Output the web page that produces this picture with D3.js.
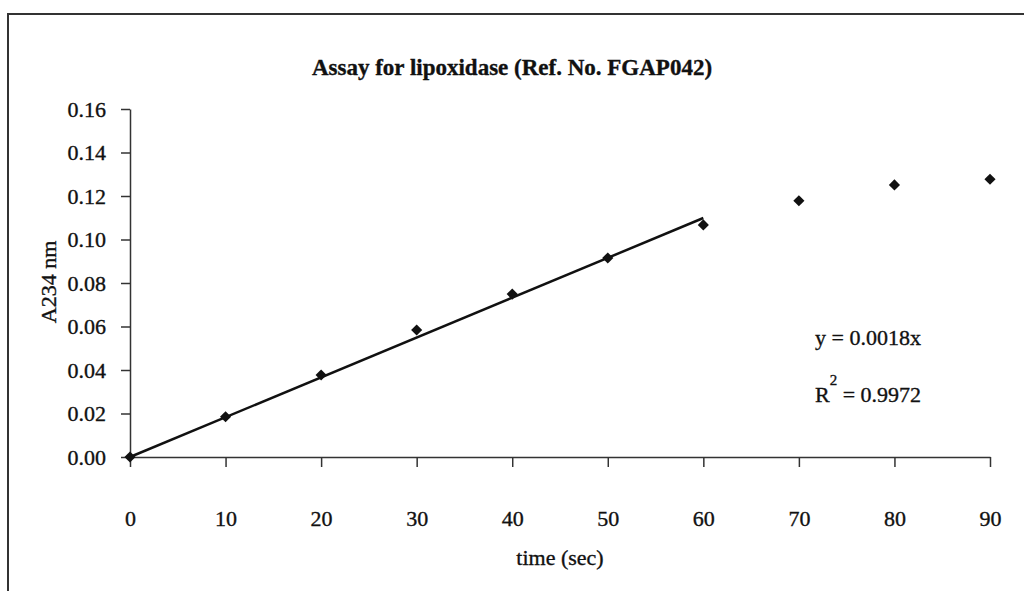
<!DOCTYPE html>
<html>
<head>
<meta charset="utf-8">
<script src="https://cdn.jsdelivr.net/npm/d3@7"></script>
<style>
  body { margin: 0; background: #fff; }
  svg { display: block; }
  text { font-family: "Liberation Serif", "Times New Roman", serif; fill: #111; stroke: #111; stroke-width: 0.35; }
  .axis path, .axis line { stroke: #333; stroke-width: 1.5; }
  .axis text { font-size: 22px; fill: #111; }
</style>
</head>
<body>
<div id="chart"></div>
<script>

// data
const times = [0, 10, 20, 30, 40, 50, 60, 70, 80, 90];
const absorbance = [0, 0.0185, 0.0377, 0.0584, 0.0749, 0.0915, 0.1067, 0.1178, 0.1251, 0.1277];
const yTicks = [0, 0.02, 0.04, 0.06, 0.08, 0.10, 0.12, 0.14, 0.16];
const xTicks = [0, 10, 20, 30, 40, 50, 60, 70, 80, 90];
const fitUpTo = 60;   // trendline uses points up to 60 s
const eqText = "y = 0.0018x";
const r2Value = "0.9972";

const width = 1024, height = 591;

const svg = d3.select("#chart").append("svg")
    .attr("width", width)
    .attr("height", height);

// outer frame (only top and left edges are in view)
svg.append("path")
    .attr("d", "M8,591 L8,14 L1024,14")
    .attr("fill", "none")
    .attr("stroke", "#333")
    .attr("stroke-width", 2);

// scales
const x = d3.scaleLinear().domain([0, 90]).range([130, 990]);
const y = d3.scaleLinear().domain([0, 0.16]).range([457, 109]);

// axes
const yAxis = d3.axisLeft(y)
    .tickValues(yTicks)
    .tickFormat(d3.format(".2f"))
    .tickSize(9)
    .tickSizeOuter(0)
    .tickPadding(15);

svg.append("g")
    .attr("class", "y-axis axis")
    .attr("transform", "translate(" + x(0) + ",0)")
    .call(yAxis);

const xAxis = d3.axisBottom(x)
    .tickValues(xTicks)
    .tickFormat(d3.format("d"))
    .tickSize(10)
    .tickSizeOuter(0);

svg.append("g")
    .attr("class", "x-axis axis")
    .attr("transform", "translate(0," + y(0) + ")")
    .call(xAxis)
    .selectAll("text")
    .attr("y", 69)
    .attr("dy", 0);

svg.selectAll(".axis .domain").attr("stroke", "#333");

// linear trendline through origin (least squares on first points)
const fitData = times.map((t, i) => ({ t: t, a: absorbance[i] })).filter(d => d.t <= fitUpTo);
const slope = d3.sum(fitData, d => d.t * d.a) / d3.sum(fitData, d => d.t * d.t);

svg.append("line")
    .attr("x1", x(0))
    .attr("y1", y(0))
    .attr("x2", x(fitUpTo))
    .attr("y2", y(slope * fitUpTo))
    .attr("stroke", "#111")
    .attr("stroke-width", 2.5);

// points (diamonds)
const diamond = d3.symbol().type(d3.symbolSquare).size(62);

svg.selectAll(".pt")
    .data(times)
    .enter()
    .append("path")
    .attr("class", "pt")
    .attr("d", diamond)
    .attr("transform", (d, i) => "translate(" + x(d) + "," + y(absorbance[i]) + ") rotate(45)")
    .attr("fill", "#111");

// title
svg.append("text")
    .attr("x", 512)
    .attr("y", 75)
    .attr("text-anchor", "middle")
    .style("font-size", "23px")
    .style("font-weight", "bold")
    .text("Assay for lipoxidase (Ref. No. FGAP042)");

// axis titles
svg.append("text")
    .attr("transform", "translate(56,282) rotate(-90)")
    .attr("text-anchor", "middle")
    .style("font-size", "22px")
    .text("A234 nm");

svg.append("text")
    .attr("x", 560)
    .attr("y", 565)
    .attr("text-anchor", "middle")
    .style("font-size", "22px")
    .text("time (sec)");

// equation and R²
svg.append("text")
    .attr("x", 815)
    .attr("y", 345)
    .style("font-size", "22px")
    .text(eqText);

const r2 = svg.append("text")
    .attr("x", 815)
    .attr("y", 402)
    .style("font-size", "22px");
r2.append("tspan").text("R");
r2.append("tspan").attr("dy", -17).style("font-size", "15px").text("2");
r2.append("tspan").attr("dy", 17).text(" = " + r2Value);

</script>
</body>
</html>
